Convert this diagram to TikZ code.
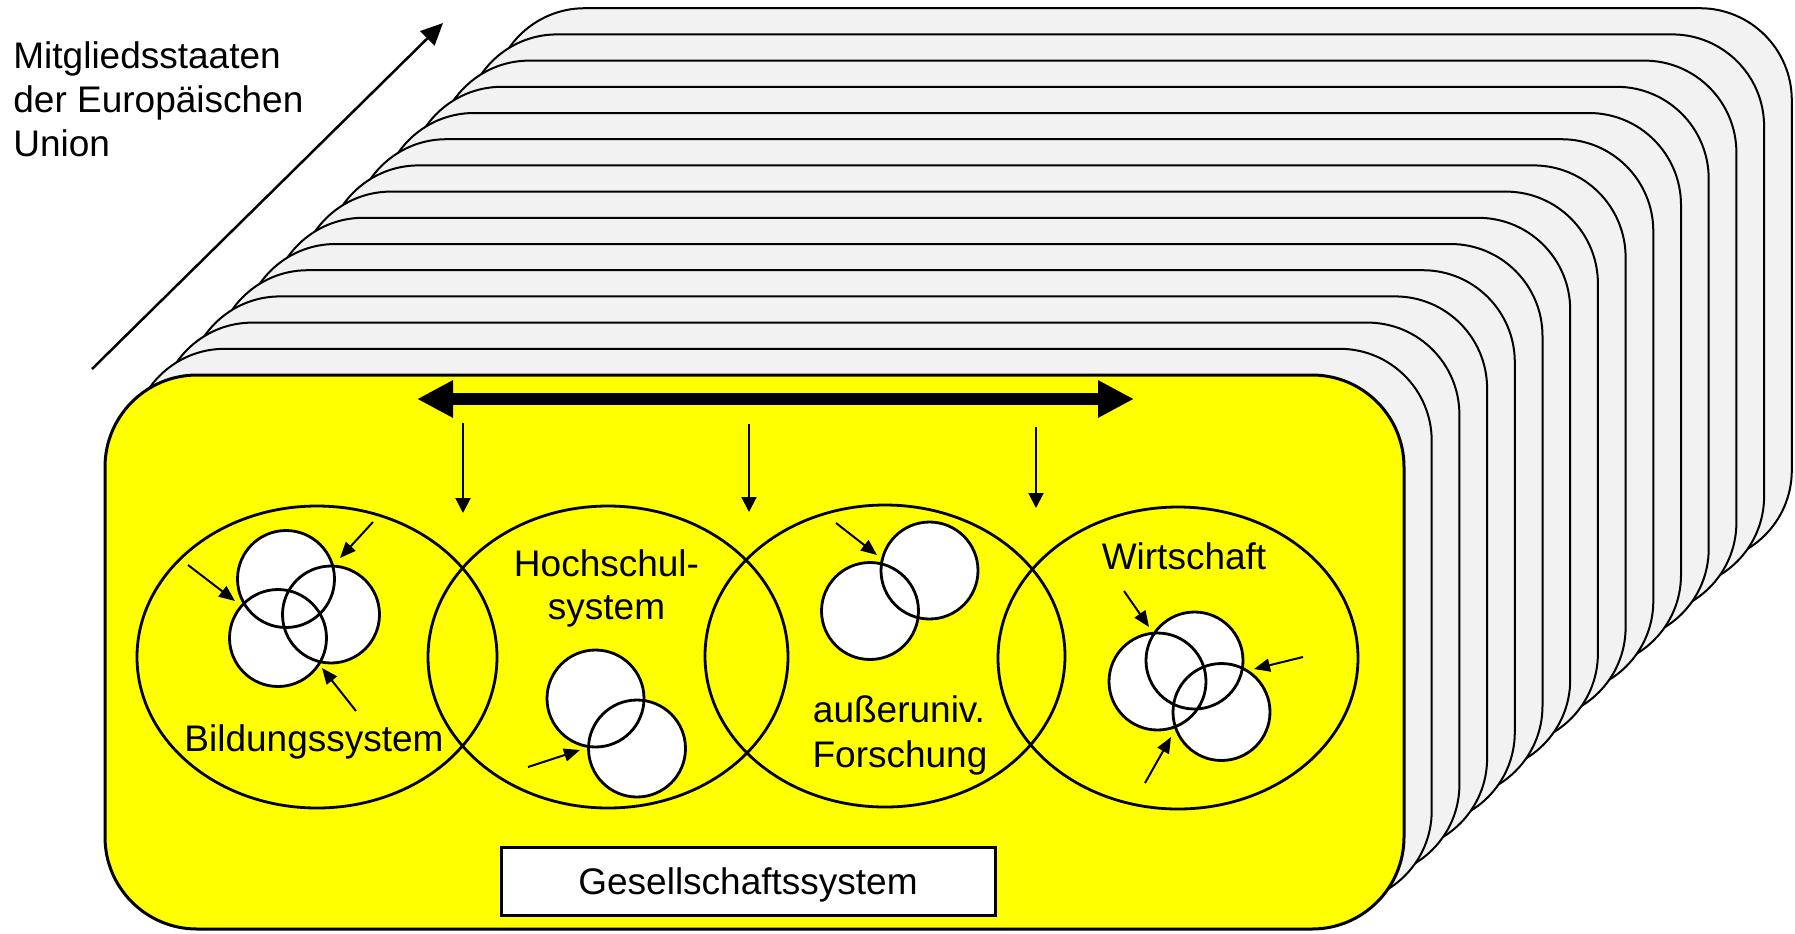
\documentclass[tikz,border=0pt]{standalone}
\usepackage{fontspec}
\setmainfont{Liberation Sans}
\usetikzlibrary{arrows.meta,shapes.geometric}
\definecolor{cardgray}{HTML}{F2F2F2}
\definecolor{sysyellow}{HTML}{FFFF00}
\begin{document}
\begin{tikzpicture}[x=0.5pt,y=-0.5pt,
  card/.style={draw=black,line width=1pt,fill=cardgray,rounded corners=46pt},
  frontcard/.style={draw=black,line width=1.5pt,fill=sysyellow,rounded corners=46pt},
  subsys/.style={ellipse,draw=black,line width=1.4pt,minimum width=180pt,minimum height=151pt,inner sep=0pt},
  disc/.style={circle,fill=white,minimum size=48.5pt,inner sep=0pt},
  ring/.style={draw=black,line width=1.4pt},
  txt/.style={font=\fontsize{18.5pt}{22pt}\selectfont,inner sep=0pt},
  gbox/.style={draw=black,line width=1.5pt,fill=white,minimum width=247pt,minimum height=34pt,inner sep=0pt},
  smallarrow/.style={line width=1pt,-{Triangle[length=8pt,width=6.5pt]}},
  droparrow/.style={line width=1pt,-{Triangle[length=7.5pt,width=7.5pt]}},
  bigarrow/.style={line width=6pt,{Triangle[length=18pt,width=17.5pt]}-{Triangle[length=18pt,width=17.5pt]}},
  eularrow/.style={line width=1.25pt,-{Triangle[length=11pt,width=10pt]}}
]
\useasboundingbox (0,0) rectangle (1795,933);

% stack of member-state cards, back to front
\foreach \k in {14,13,...,1} {
  \draw[card] ({105+27.7*\k},{375-26.2*\k}) rectangle ({1404+27.7*\k},{929-26.2*\k});
}
\draw[frontcard] (105,375) rectangle (1404,929);

% member states axis
\coordinate (eus) at (92,369);
\coordinate (eue) at (443,23);
\draw[eularrow] (eus) -- (eue);
\node[txt,anchor=base west] (eu1) at (13,68) {Mitgliedsstaaten};
\node[txt,anchor=base west] (eu2) at (13,112) {der Europäischen};
\node[txt,anchor=base west] (eu3) at (13,156) {Union};

% exchange between the subsystems
\coordinate (bl) at (417,399);
\coordinate (br) at (1134,399);
\draw[bigarrow] (bl) -- (br);

\coordinate (d1s) at (463,423);  \coordinate (d1e) at (463,513);
\coordinate (d2s) at (749,424);  \coordinate (d2e) at (749,512);
\coordinate (d3s) at (1036,427); \coordinate (d3e) at (1036,508);
\draw[droparrow] (d1s) -- (d1e);
\draw[droparrow] (d2s) -- (d2e);
\draw[droparrow] (d3s) -- (d3e);

% subsystems
\node[subsys] (e1) at (317,657) {};
\node[subsys] (e2) at (608,657) {};
\node[subsys] (e3) at (885,656) {};
\node[subsys] (e4) at (1178,658) {};

% organisations inside the subsystems
\node[disc] (b1) at (286,579) {};
\node[disc] (b2) at (331,614.5) {};
\node[disc] (b3) at (278,638) {};
\node[disc] (h1) at (595.5,698.5) {};
\node[disc] (h2) at (637,748.5) {};
\node[disc] (f1) at (929.5,570.5) {};
\node[disc] (f2) at (870,611) {};
\node[disc] (w1) at (1194.5,660.5) {};
\node[disc] (w2) at (1157.5,681.5) {};
\node[disc] (w3) at (1221.5,712) {};
\foreach \c in {b1,b2,b3,h1,h2,f1,f2,w1,w2,w3} {
  \draw[ring] (\c.center) circle[radius=48.5];
}

% influences on the organisations
\coordinate (a1s) at (188,565);  \coordinate (a1e) at (235,601);
\coordinate (a2s) at (373,522);  \coordinate (a2e) at (340,558);
\coordinate (a3s) at (356,711);  \coordinate (a3e) at (322,668);
\coordinate (a4s) at (528,767);  \coordinate (a4e) at (580,750);
\coordinate (a5s) at (836,523);  \coordinate (a5e) at (877,555);
\coordinate (a6s) at (1124,591); \coordinate (a6e) at (1149,627);
\coordinate (a7s) at (1303,657); \coordinate (a7e) at (1254,669);
\coordinate (a8s) at (1145,783); \coordinate (a8e) at (1171,737);
\foreach \a in {a1,a2,a3,a4,a5,a6,a7,a8} {
  \draw[smallarrow] (\a s) -- (\a e);
}

% labels
\node[txt,anchor=base] (lb) at (314,751) {Bildungssystem};
\node[txt,anchor=base] (lh1) at (606.5,576) {Hochschul-};
\node[txt,anchor=base] (lh2) at (606.5,619) {system};
\node[txt,anchor=base] (lf1) at (899,722) {außeruniv.};
\node[txt,anchor=base] (lf2) at (900,767) {Forschung};
\node[txt,anchor=base] (lw) at (1184,569) {Wirtschaft};

% society
\node[gbox] (gs) at (748,881) {};
\node[txt,anchor=base] (gst) at (748,894) {Gesellschaftssystem};
\end{tikzpicture}
\end{document}
